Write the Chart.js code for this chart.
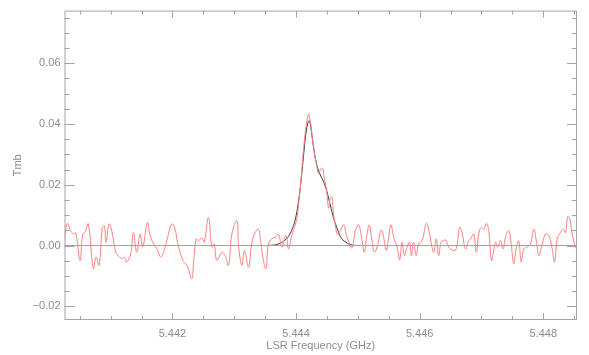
<!DOCTYPE html>
<html>
<head>
<meta charset="utf-8">
<script src="https://cdn.jsdelivr.net/npm/chart.js@4.4.1/dist/chart.umd.min.js"></script>
<style>
  html, body { margin: 0; padding: 0; background: #fff; }
</style>
</head>
<body>
<canvas id="spec" width="589" height="355"></canvas>
<script>
const freq = [
  5.440254, 5.440299, 5.440354, 5.440397, 5.440435, 5.440505, 5.440549, 5.440586, 5.440639, 5.440720,
  5.440764, 5.440813, 5.440866, 5.440899, 5.440926, 5.440975, 5.441018, 5.441088, 5.441125, 5.441180,
  5.441218, 5.441261, 5.441326, 5.441368, 5.441423, 5.441477, 5.441520, 5.441595, 5.441639, 5.441708,
  5.441747, 5.441812, 5.441865, 5.441909, 5.441990, 5.442043, 5.442081, 5.442168, 5.442233, 5.442314,
  5.442340, 5.442384, 5.442421, 5.442476, 5.442513, 5.442583, 5.442638, 5.442675, 5.442719, 5.442800,
  5.442853, 5.442907, 5.442962, 5.443043, 5.443069, 5.443124, 5.443166, 5.443231, 5.443286, 5.443339,
  5.443392, 5.443420, 5.443464, 5.443512, 5.443554, 5.443609, 5.443679, 5.443716, 5.443771, 5.443809,
  5.443841, 5.443878, 5.443922, 5.443959, 5.443987, 5.444014, 5.444040, 5.444068, 5.444095, 5.444121,
  5.444149, 5.444176, 5.444202, 5.444218, 5.444241, 5.444273, 5.444311, 5.444338, 5.444364, 5.444403,
  5.444435, 5.444456, 5.444489, 5.444526, 5.444553, 5.444581, 5.444607, 5.444634, 5.444672, 5.444715,
  5.444769, 5.444813, 5.444850, 5.444905, 5.444958, 5.445012, 5.445067, 5.445104, 5.445148, 5.445185,
  5.445229, 5.445266, 5.445310, 5.445379, 5.445417, 5.445460, 5.445498, 5.445536, 5.445579, 5.445634,
  5.445676, 5.445715, 5.445752, 5.445796, 5.445838, 5.445865, 5.445902, 5.445941, 5.445983, 5.446038,
  5.446108, 5.446145, 5.446184, 5.446226, 5.446270, 5.446307, 5.446346, 5.446388, 5.446427, 5.446469,
  5.446524, 5.446578, 5.446615, 5.446647, 5.446686, 5.446740, 5.446793, 5.446832, 5.446874, 5.446918,
  5.446955, 5.446994, 5.447036, 5.447080, 5.447117, 5.447161, 5.447198, 5.447226, 5.447263, 5.447307,
  5.447350, 5.447388, 5.447441, 5.447480, 5.447522, 5.447566, 5.447603, 5.447642, 5.447684, 5.447739,
  5.447792, 5.447846, 5.447890, 5.447927, 5.447982, 5.448035, 5.448089, 5.448144, 5.448181, 5.448225,
  5.448278, 5.448322, 5.448359, 5.448396, 5.448429, 5.448468, 5.448505, 5.448545
];
const tmb = [
  0.0022, 0.0073, 0.0049, 0.0038, 0.0043, -0.0049, 0.0038, 0.0043, 0.0071, -0.0076,
  -0.0038, -0.0065, 0.0060, 0.0065, 0.0011, 0.0071, 0.0049, -0.0027, -0.0033, -0.0043,
  -0.0038, -0.0054, -0.0027, 0.0043, -0.0022, 0.0038, -0.0005, 0.0076, 0.0033, 0.0000,
  -0.0010, -0.0038, -0.0016, 0.0016, 0.0071, 0.0054, 0.0011, -0.0049, -0.0065, -0.0109,
  -0.0060, 0.0022, 0.0016, 0.0025, 0.0011, 0.0092, -0.0005, 0.0005, -0.0049, -0.0022,
  -0.0033, -0.0065, 0.0038, 0.0082, 0.0000, -0.0065, -0.0016, -0.0071, 0.0011, 0.0043,
  0.0054, 0.0027, -0.0040, -0.0076, 0.0005, 0.0022, 0.0029, 0.0038, -0.0005, 0.0022,
  0.0033, -0.0011, 0.0025, 0.0052, 0.0068, 0.0090, 0.0134, 0.0188, 0.0253, 0.0318,
  0.0373, 0.0411, 0.0433, 0.0422, 0.0395, 0.0340, 0.0286, 0.0259, 0.0237, 0.0253,
  0.0253, 0.0221, 0.0188, 0.0123, 0.0155, 0.0160, 0.0101, 0.0068, 0.0036, 0.0047,
  0.0068, 0.0036, 0.0014, -0.0008, 0.0047, 0.0068, 0.0016, -0.0022, 0.0038, 0.0068,
  0.0016, -0.0022, -0.0005, 0.0051, 0.0027, -0.0016, 0.0027, 0.0068, 0.0027, -0.0005,
  -0.0047, 0.0011, -0.0033, -0.0005, 0.0011, -0.0033, 0.0011, -0.0033, 0.0005, 0.0016,
  0.0073, 0.0054, 0.0011, -0.0022, 0.0022, -0.0033, 0.0011, 0.0016, 0.0018, -0.0005,
  -0.0014, -0.0016, 0.0016, 0.0060, 0.0043, -0.0011, 0.0016, 0.0025, 0.0038, -0.0022,
  0.0038, 0.0060, 0.0054, 0.0073, 0.0049, -0.0049, -0.0016, 0.0011, -0.0005, 0.0016,
  -0.0011, 0.0027, 0.0049, 0.0005, -0.0060, -0.0005, 0.0016, -0.0054, -0.0011, -0.0005,
  0.0005, 0.0054, 0.0011, -0.0033, 0.0005, 0.0038, 0.0033, -0.0011, -0.0054, 0.0022,
  0.0043, 0.0054, 0.0043, 0.0095, 0.0087, 0.0038, 0.0005, -0.0016
];

// Fitted line profile
const fitFreq = [
  5.443512, 5.443679, 5.443797, 5.443878, 5.443933, 5.443987, 5.444040, 5.444079, 5.444111, 5.444149,
  5.444186, 5.444210, 5.444230, 5.444257, 5.444294, 5.444338, 5.444392, 5.444445, 5.444500, 5.444553,
  5.444607, 5.444662, 5.444715, 5.444796, 5.444877, 5.444986, 5.445088
];
const fitTmb = [
  0.0000, 0.0003, 0.0014, 0.0030, 0.0052, 0.0085, 0.0145, 0.0210, 0.0275, 0.0351,
  0.0400, 0.0411, 0.0400, 0.0362, 0.0308, 0.0264, 0.0232, 0.0210, 0.0177, 0.0134,
  0.0090, 0.0058, 0.0030, 0.0012, 0.0003, 0.0000, 0.0000
];

// Axis ranges and labelled ticks
const xRange = [5.440254, 5.448545];
const yRange = [-0.0245, 0.0773];
const xTicks = [5.442, 5.444, 5.446, 5.448];
const yTicks = [-0.02, 0.00, 0.02, 0.04, 0.06];

const frameColor = '#a4a4a4';
const textColor = '#8c8c8c';

// frame with inward ticks on all four sides (IDL style)
const framePlugin = {
  id: 'frame',
  afterDatasetsDraw(chart) {
    const { ctx, chartArea: a, scales: { x, y } } = chart;
    ctx.save();
    ctx.strokeStyle = frameColor;
    ctx.lineWidth = 1;
    ctx.strokeRect(a.left + 0.5, a.top + 0.5, a.right - a.left - 1, a.bottom - a.top - 1);

    ctx.beginPath();
    // x ticks, minor every 0.0005
    for (let v = 5.4400; v <= xRange[1]; v += 0.0005) {
      if (v < xRange[0]) continue;
      const px = Math.round(x.getPixelForValue(v)) + 0.5;
      const major = Math.abs(v / 0.002 - Math.round(v / 0.002)) < 1e-3;
      const len = major ? 7 : 4;
      ctx.moveTo(px, a.bottom); ctx.lineTo(px, a.bottom - len);
      ctx.moveTo(px, a.top); ctx.lineTo(px, a.top + len);
    }
    // y ticks, minor every 0.005
    for (let v = -0.02; v <= yRange[1]; v += 0.005) {
      const py = Math.round(y.getPixelForValue(v)) + 0.5;
      const major = Math.abs(v / 0.02 - Math.round(v / 0.02)) < 1e-3;
      const len = major ? 10 : 5;
      ctx.moveTo(a.left, py); ctx.lineTo(a.left + len, py);
      ctx.moveTo(a.right, py); ctx.lineTo(a.right - len, py);
    }
    ctx.stroke();
    ctx.restore();
  }
};

const font = { family: 'Liberation Sans', size: 11 };

new Chart(document.getElementById('spec'), {
  type: 'line',
  data: {
    datasets: [
      {
        label: 'baseline',
        data: [{ x: xRange[0], y: 0 }, { x: xRange[1], y: 0 }],
        borderColor: '#a0a0a0',
        borderWidth: 1,
        pointRadius: 0
      },
      {
        label: 'spectrum',
        data: freq.map((f, i) => ({ x: f, y: tmb[i] })),
        borderColor: '#ff8080',
        borderWidth: 1,
        pointRadius: 0,
        tension: 0.4
      },
      {
        label: 'fit',
        data: fitFreq.map((f, i) => ({ x: f, y: fitTmb[i] })),
        borderColor: '#3a3a3a',
        borderWidth: 1,
        pointRadius: 0,
        cubicInterpolationMode: 'monotone'
      }
    ]
  },
  options: {
    responsive: false,
    animation: false,
    devicePixelRatio: 1,
    layout: { padding: { top: 8, right: 12, left: 0, bottom: 0 } },
    plugins: { legend: { display: false }, tooltip: { enabled: false } },
    scales: {
      x: {
        type: 'linear',
        min: xRange[0],
        max: xRange[1],
        afterBuildTicks: s => { s.ticks = xTicks.map(v => ({ value: v })); },
        afterFit: s => { s.height = 35; },
        grid: { display: false, drawTicks: false },
        border: { display: false },
        ticks: {
          color: textColor, font, padding: 7, maxRotation: 0,
          callback: v => v.toFixed(3)
        },
        title: {
          display: true, text: 'LSR Frequency (GHz)',
          color: textColor, font, padding: { top: 0, bottom: 2 }
        }
      },
      y: {
        min: yRange[0],
        max: yRange[1],
        afterBuildTicks: s => { s.ticks = yTicks.map(v => ({ value: v })); },
        afterFit: s => { s.width = 64.5; },
        grid: { display: false, drawTicks: false },
        border: { display: false },
        ticks: {
          color: textColor, font, padding: 4,
          callback: v => (v < 0 ? '\u2212' : '') + Math.abs(v).toFixed(2)
        },
        title: {
          display: true, text: 'Tmb',
          color: textColor, font, padding: { top: 11, bottom: 0 }
        }
      }
    }
  },
  plugins: [framePlugin]
});
</script>
</body>
</html>
